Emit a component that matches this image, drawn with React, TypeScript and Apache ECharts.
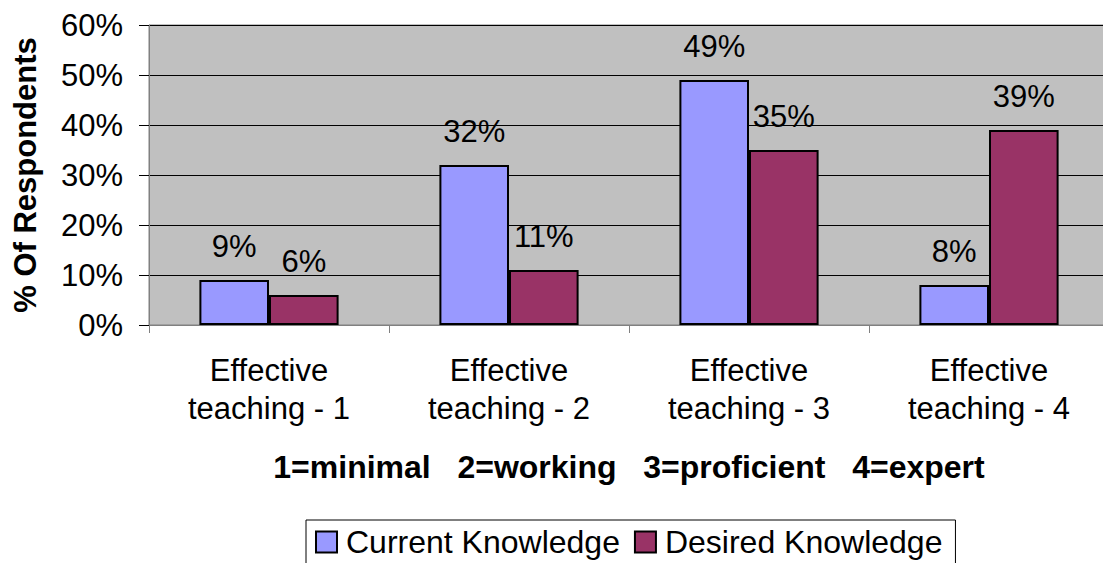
import React, { useEffect, useRef } from "react";
import * as echarts from "echarts";

const categories = [
  "Effective\nteaching - 1",
  "Effective\nteaching - 2",
  "Effective\nteaching - 3",
  "Effective\nteaching - 4",
];
const currentKnowledge = [9, 32, 49, 8];
const desiredKnowledge = [6, 11, 35, 39];
const seriesNames = ["Current Knowledge", "Desired Knowledge"];
const xAxisTitle = "1=minimal   2=working   3=proficient   4=expert";
const yAxisTitle = "% Of Respondents";

const FONT = "'Liberation Sans', Arial, sans-serif";

export default function App() {
  const ref = useRef<HTMLDivElement>(null);
  useEffect(() => {
    if (!ref.current) return;
    const chart = echarts.init(ref.current, null, { renderer: "svg" });
    const labelCfg = {
      show: true,
      position: "top",
      distance: 18,
      formatter: "{c}%",
      color: "#000",
      fontSize: 31,
      fontFamily: FONT,
    };
    chart.setOption({
      animation: false,
      backgroundColor: "#ffffff",
      textStyle: { fontFamily: FONT },
      grid: {
        left: 149,
        top: 25,
        right: 1,
        height: 300,
        show: true,
        backgroundColor: "#C0C0C0",
        borderColor: "#808080",
        borderWidth: 1,
      },
      legend: {
        data: seriesNames,
        left: 306,
        top: 520,
        orient: "horizontal",
        itemWidth: 21,
        itemHeight: 21,
        itemGap: 14,
        padding: [6, 13, 8, 9],
        borderColor: "#000",
        borderWidth: 1,
        backgroundColor: "#fff",
        textStyle: { fontSize: 32, color: "#000", fontFamily: FONT, padding: [0, 0, 0, 4] },
        icon: "rect",
      },
      xAxis: {
        type: "category",
        data: categories,
        name: xAxisTitle,
        nameLocation: "middle",
        nameGap: 126,
        nameTextStyle: { fontSize: 32, fontWeight: "bold", color: "#000", fontFamily: FONT, verticalAlign: "top" },
        axisLine: { show: true, lineStyle: { color: "#808080", width: 1 } },
        axisTick: { show: true, length: 8, lineStyle: { color: "#808080" } },
        axisLabel: {
          fontSize: 31,
          lineHeight: 38,
          color: "#000",
          margin: 26,
          fontFamily: FONT,
          interval: 0,
        },
      },
      yAxis: {
        type: "value",
        min: 0,
        max: 60,
        interval: 10,
        name: yAxisTitle,
        nameLocation: "middle",
        nameGap: 108,
        nameTextStyle: { fontSize: 31, fontWeight: "bold", color: "#000", fontFamily: FONT },
        axisLine: { show: true, lineStyle: { color: "#808080", width: 1 } },
        axisTick: { show: true, length: 10, inside: false, lineStyle: { color: "#000" } },
        axisLabel: {
          formatter: "{value}%",
          fontSize: 31,
          color: "#000",
          margin: 26,
          fontFamily: FONT,
        },
        splitLine: { show: true, lineStyle: { color: "#000", width: 1 } },
      },
      series: [
        {
          name: seriesNames[0],
          type: "bar",
          data: currentKnowledge,
          barGap: "0%",
          barCategoryGap: "42%",
          itemStyle: { color: "#9999FF", borderColor: "#000", borderWidth: 2 },
          label: labelCfg,
        },
        {
          name: seriesNames[1],
          type: "bar",
          data: desiredKnowledge,
          barGap: "0%",
          barCategoryGap: "42%",
          itemStyle: { color: "#993366", borderColor: "#000", borderWidth: 2 },
          label: labelCfg,
        },
      ],
    });
    return () => chart.dispose();
  }, []);
  return (
    <div style={{ position: "fixed", left: 0, top: 0, width: 1103, height: 563, overflow: "hidden" }}>
      <div ref={ref} style={{ width: 1110, height: 563 }} />
    </div>
  );
}
